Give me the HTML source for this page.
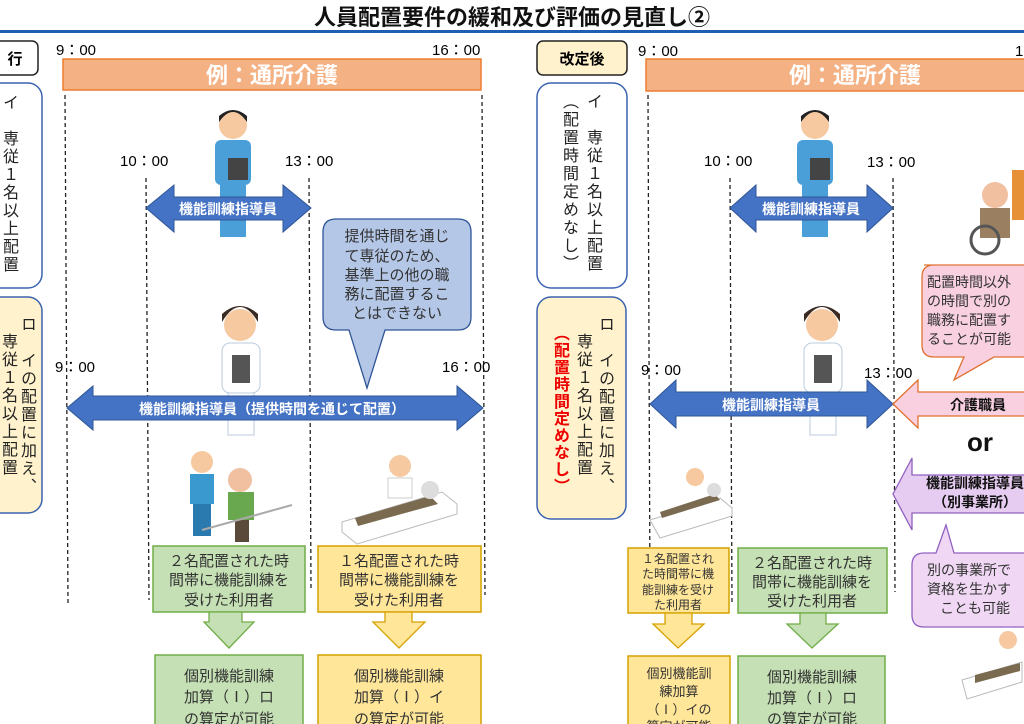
<!DOCTYPE html>
<html><head><meta charset="utf-8"><style>
html,body{margin:0;padding:0;background:#fff;}
body{width:1024px;height:724px;overflow:hidden;position:relative;font-family:"Liberation Sans","Noto Sans CJK JP",sans-serif;}
.v{position:absolute;writing-mode:vertical-rl;font-size:16px;line-height:17px;letter-spacing:2px;color:#222;}
</style></head><body>
<svg width="1024" height="724" style="position:absolute;left:0;top:0" font-family="Liberation Sans, Noto Sans CJK JP, sans-serif">
<text x="512" y="25" font-size="22" font-weight="bold" text-anchor="middle" fill="#111">人員配置要件の緩和及び評価の見直し②</text>
<rect x="0" y="30" width="1024" height="3" fill="#1f5fb0"/>

<!-- LEFT -->
<rect x="-10" y="41" width="48" height="34" rx="6" fill="#fff" stroke="#222" stroke-width="1.5"/>
<text x="15" y="64" font-size="15" font-weight="bold" text-anchor="middle">行</text>
<rect x="-20" y="83" width="62" height="205" rx="14" fill="#fff" stroke="#3a63b0" stroke-width="1.5"/>
<rect x="-20" y="297" width="62" height="216" rx="14" fill="#fff2cc" stroke="#3a63b0" stroke-width="1.5"/>
<text x="56" y="55" font-size="15">9：00</text>
<text x="432" y="55" font-size="15">16：00</text>
<rect x="63" y="59" width="418" height="31" fill="#f4b183" stroke="#ed7d31" stroke-width="1.5"/>
<text x="272" y="83" font-size="22" font-weight="bold" fill="#fff" text-anchor="middle">例：通所介護</text>
<g stroke="#222" stroke-width="1.3" stroke-dasharray="4,3">
<line x1="65" y1="95" x2="68" y2="605"/><line x1="146" y1="178" x2="149" y2="600"/><line x1="309" y1="178" x2="311" y2="590"/><line x1="482" y1="95" x2="485" y2="595"/>
<line x1="648" y1="95" x2="650" y2="600"/><line x1="730" y1="178" x2="732" y2="605"/><line x1="893" y1="178" x2="895" y2="592"/>
</g>
<text x="120" y="166" font-size="15">10：00</text>
<text x="285" y="166" font-size="15">13：00</text>
<g><circle cx="233" cy="125" r="14" fill="#f6c9a0"/><path d="M219 122 q14 -20 28 0 v-6 q-14 -12 -28 0z" fill="#222"/><rect x="215" y="140" width="36" height="45" rx="6" fill="#4a9fd8"/><rect x="220" y="185" width="26" height="52" fill="#4a9fd8"/><rect x="228" y="158" width="20" height="22" fill="#444"/></g>
<polygon points="146,208 174,185 174,197 283,197 283,185 311,208 283,232 283,220 174,220 174,232" fill="#4472c4" stroke="#2f5597"/>
<text x="228" y="214" font-size="14" font-weight="bold" fill="#fff" text-anchor="middle">機能訓練指導員</text>
<!-- blue callout -->
<path d="M336 219 h122 q13 0 13 13 v85 q0 13 -13 13 h-73 l-18 58 l-18 -58 h-13 q-13 0 -13 -13 v-85 q0 -13 13 -13z" fill="#b4c7e7" stroke="#2f5597" stroke-width="1.3"/>
<g font-size="15" fill="#333" text-anchor="middle"><text x="397" y="241">提供時間を通じ</text><text x="397" y="261">て専従のため、</text><text x="397" y="280">基準上の他の職</text><text x="397" y="299">務に配置するこ</text><text x="397" y="318">とはできない</text></g>
<g><circle cx="240" cy="325" r="16" fill="#f6c9a0"/><path d="M222 322 q18 -30 36 0 v-8 q-18 -16 -36 0z" fill="#3a2a22"/><rect x="222" y="343" width="38" height="50" rx="8" fill="#fff" stroke="#bcd"/><rect x="232" y="355" width="18" height="28" fill="#555"/><rect x="228" y="393" width="26" height="42" fill="#fff" stroke="#bcd"/></g>
<text x="55" y="372" font-size="15">9：00</text>
<text x="442" y="372" font-size="15">16：00</text>
<polygon points="67,408 93,386 93,396 457,396 457,386 483,408 457,430 457,420 93,420 93,430" fill="#4472c4" stroke="#2f5597"/>
<text x="272" y="414" font-size="14" font-weight="bold" fill="#fff" text-anchor="middle">機能訓練指導員（提供時間を通じて配置）</text>
<g><circle cx="202" cy="462" r="11" fill="#f6c9a0"/><rect x="190" y="474" width="24" height="30" fill="#3a9ad0"/><rect x="193" y="504" width="18" height="32" fill="#2a7ab0"/><circle cx="240" cy="480" r="12" fill="#f0c0a0"/><rect x="228" y="492" width="26" height="28" fill="#6aa84f"/><rect x="235" y="520" width="14" height="22" fill="#5a4a3a"/><line x1="202" y1="530" x2="292" y2="505" stroke="#aaa" stroke-width="2"/></g>
<g><circle cx="400" cy="466" r="11" fill="#f6c9a0"/><rect x="388" y="478" width="24" height="20" fill="#fff" stroke="#ccc"/><path d="M342 522 l100 -30 l15 12 v10 l-100 30 l-15 -12z" fill="#fff" stroke="#bbb"/><path d="M355 518 l75 -22 l8 8 l-80 22z" fill="#7a6a50"/><circle cx="430" cy="490" r="9" fill="#ddd"/></g>
<rect x="153" y="546" width="152" height="66" fill="#c5e0b4" stroke="#70ad47" stroke-width="1.5"/>
<g font-size="15" fill="#333" text-anchor="middle"><text x="229" y="566">２名配置された時</text><text x="229" y="585">間帯に機能訓練を</text><text x="229" y="605">受けた利用者</text></g>
<polygon points="209,612 242,612 242,622 254,622 229,648 204,622 209,622" fill="#c5e0b4" stroke="#70ad47" stroke-width="1.3"/>
<rect x="155" y="655" width="148" height="80" fill="#c5e0b4" stroke="#70ad47" stroke-width="1.5"/>
<g font-size="15" fill="#333" text-anchor="middle"><text x="229" y="681">個別機能訓練</text><text x="229" y="702">加算（Ⅰ）ロ</text><text x="229" y="724">の算定が可能</text></g>
<rect x="318" y="546" width="163" height="66" fill="#ffe699" stroke="#d6a100" stroke-width="1.5"/>
<g font-size="15" fill="#333" text-anchor="middle"><text x="399" y="566">１名配置された時</text><text x="399" y="585">間帯に機能訓練を</text><text x="399" y="605">受けた利用者</text></g>
<polygon points="385,612 412,612 412,622 425,622 399,648 373,622 385,622" fill="#ffe699" stroke="#d6a100" stroke-width="1.3"/>
<rect x="318" y="655" width="163" height="80" fill="#ffe699" stroke="#d6a100" stroke-width="1.5"/>
<g font-size="15" fill="#333" text-anchor="middle"><text x="399" y="681">個別機能訓練</text><text x="399" y="702">加算（Ⅰ）イ</text><text x="399" y="724">の算定が可能</text></g>

<!-- RIGHT -->
<rect x="537" y="41" width="90" height="34" rx="6" fill="#fff2cc" stroke="#222" stroke-width="1.5"/>
<text x="582" y="64" font-size="15" font-weight="bold" text-anchor="middle">改定後</text>
<rect x="537" y="83" width="90" height="205" rx="14" fill="#fff" stroke="#3a63b0" stroke-width="1.5"/>
<rect x="537" y="297" width="89" height="222" rx="14" fill="#fff2cc" stroke="#3a63b0" stroke-width="1.5"/>
<text x="638" y="56" font-size="15">9：00</text>
<text x="1015" y="56" font-size="15">1</text>
<rect x="646" y="59" width="390" height="32" fill="#f4b183" stroke="#ed7d31" stroke-width="1.5"/>
<text x="855" y="83" font-size="22" font-weight="bold" fill="#fff" text-anchor="middle">例：通所介護</text>
<text x="704" y="166" font-size="15">10：00</text>
<text x="867" y="167" font-size="15">13：00</text>
<g><circle cx="815" cy="125" r="14" fill="#f6c9a0"/><path d="M801 122 q14 -20 28 0 v-6 q-14 -12 -28 0z" fill="#222"/><rect x="797" y="140" width="36" height="45" rx="6" fill="#4a9fd8"/><rect x="802" y="185" width="26" height="52" fill="#4a9fd8"/><rect x="810" y="158" width="20" height="22" fill="#444"/></g>
<polygon points="730,208 756,185 756,197 867,197 867,185 893,208 867,232 867,220 756,220 756,232" fill="#4472c4" stroke="#2f5597"/>
<text x="811" y="214" font-size="14" font-weight="bold" fill="#fff" text-anchor="middle">機能訓練指導員</text>
<g><circle cx="995" cy="195" r="13" fill="#f0c0a0"/><rect x="980" y="208" width="30" height="30" fill="#9a8060"/><circle cx="985" cy="240" r="14" fill="none" stroke="#555" stroke-width="3"/><rect x="1012" y="170" width="12" height="50" fill="#e69138"/></g>
<path d="M924 265 h110 v92 h-40 l-40 23 l10 -23 h-30 q-12 0 -12 -12 v-68 q0 -12 12 -12z" fill="#f8d0e0" stroke="#e07030" stroke-width="1.3"/>
<g font-size="14" fill="#333"><text x="927" y="287">配置時間以外</text><text x="927" y="306">の時間で別の</text><text x="927" y="325">職務に配置す</text><text x="927" y="344">ることが可能</text></g>
<g><circle cx="822" cy="325" r="16" fill="#f6c9a0"/><path d="M804 322 q18 -30 36 0 v-8 q-18 -16 -36 0z" fill="#3a2a22"/><rect x="804" y="343" width="38" height="50" rx="8" fill="#fff" stroke="#bcd"/><rect x="814" y="355" width="18" height="28" fill="#555"/><rect x="810" y="393" width="26" height="42" fill="#fff" stroke="#bcd"/></g>
<text x="641" y="375" font-size="15">9：00</text>
<text x="864" y="378" font-size="15">13：00</text>
<polygon points="650,404 676,380 676,392 867,392 867,380 893,404 867,428 867,416 676,416 676,428" fill="#4472c4" stroke="#2f5597"/>
<text x="771" y="410" font-size="14" font-weight="bold" fill="#fff" text-anchor="middle">機能訓練指導員</text>
<polygon points="893,404 918,380 918,392 1030,392 1030,416 918,416 918,428" fill="#f8d0e0" stroke="#e07030" stroke-width="1.3"/>
<text x="978" y="410" font-size="14" font-weight="bold" fill="#111" text-anchor="middle">介護職員</text>
<text x="980" y="451" font-size="26" font-weight="bold" fill="#111" text-anchor="middle">or</text>
<polygon points="893,494 912,458 912,475 1030,475 1030,513 912,513 912,530" fill="#e6ccf0" stroke="#9060c0" stroke-width="1.3"/>
<text x="975" y="488" font-size="14" font-weight="bold" fill="#111" text-anchor="middle">機能訓練指導員</text>
<text x="975" y="507" font-size="14" font-weight="bold" fill="#111" text-anchor="middle">（別事業所）</text>
<path d="M924 553 h12 l10 -28 l8 28 h80 v74 h-110 q-12 0 -12 -12 v-50 q0 -12 12 -12z" fill="#f0d8f4" stroke="#9060c0" stroke-width="1.3"/>
<g font-size="14" fill="#333"><text x="927" y="575">別の事業所で</text><text x="927" y="594">資格を生かす</text><text x="940" y="613">ことも可能</text></g>
<g><circle cx="1008" cy="640" r="9" fill="#f6c9a0"/><path d="M962 680 l60 -18 v20 l-55 17z" fill="#fff" stroke="#bbb"/><path d="M975 675 l45 -12 v8 l-45 12z" fill="#7a6a50"/></g>
<g><circle cx="695" cy="477" r="9" fill="#f6c9a0"/><path d="M650 520 l70 -22 l12 10 v8 l-72 22z" fill="#fff" stroke="#bbb"/><path d="M660 512 l55 -18 l5 6 l-58 18z" fill="#7a6a50"/><circle cx="714" cy="490" r="7" fill="#ddd"/></g>
<rect x="628" y="548" width="101" height="65" fill="#ffe699" stroke="#d6a100" stroke-width="1.5"/>
<g font-size="12" fill="#333" text-anchor="middle"><text x="678" y="563">１名配置され</text><text x="678" y="578">た時間帯に機</text><text x="678" y="594">能訓練を受け</text><text x="678" y="609">た利用者</text></g>
<polygon points="665,613 692,613 692,624 704,624 678,648 653,624 665,624" fill="#ffe699" stroke="#d6a100" stroke-width="1.3"/>
<rect x="628" y="656" width="102" height="80" fill="#ffe699" stroke="#d6a100" stroke-width="1.5"/>
<g font-size="13" fill="#333" text-anchor="middle"><text x="679" y="678">個別機能訓</text><text x="679" y="696">練加算</text><text x="679" y="714">（Ⅰ）イの</text><text x="679" y="731">算定が可能</text></g>
<rect x="738" y="548" width="149" height="65" fill="#c5e0b4" stroke="#70ad47" stroke-width="1.5"/>
<g font-size="15" fill="#333" text-anchor="middle"><text x="812" y="568">２名配置された時</text><text x="812" y="587">間帯に機能訓練を</text><text x="812" y="606">受けた利用者</text></g>
<polygon points="800,613 826,613 826,624 838,624 812,648 787,624 800,624" fill="#c5e0b4" stroke="#70ad47" stroke-width="1.3"/>
<rect x="738" y="656" width="147" height="80" fill="#c5e0b4" stroke="#70ad47" stroke-width="1.5"/>
<g font-size="15" fill="#333" text-anchor="middle"><text x="812" y="682">個別機能訓練</text><text x="812" y="703">加算（Ⅰ）ロ</text><text x="812" y="724">の算定が可能</text></g>
</svg>
<div class="v" style="left:0px;top:94px;">イ　専従１名以上配置</div>
<div class="v" style="left:18px;top:316px;">ロ　イの配置に加え、</div>
<div class="v" style="left:-1px;top:333px;">専従１名以上配置</div>
<div class="v" style="left:584px;top:93px;">イ　専従１名以上配置</div>
<div class="v" style="left:560px;top:93px;">（配置時間定めなし）</div>
<div class="v" style="left:596px;top:316px;">ロ　イの配置に加え、</div>
<div class="v" style="left:574px;top:333px;">専従１名以上配置</div>
<div class="v" style="left:551px;top:325px;color:#e00;font-weight:bold;letter-spacing:1px;">（配置時間定めなし）</div>
</body></html>
